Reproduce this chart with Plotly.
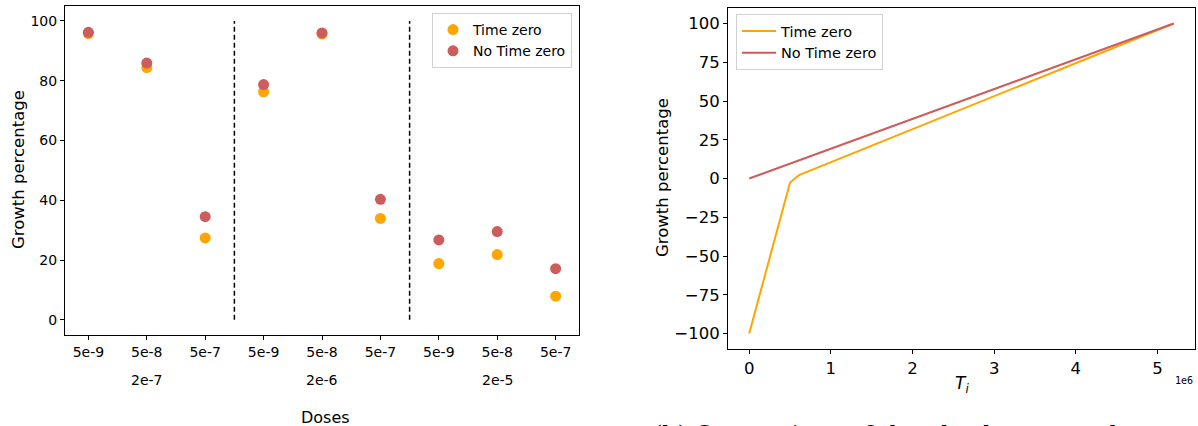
import plotly.graph_objects as go

W, H = 1198, 426

# ---------------- data ----------------
dose_ticks = ["5e-9", "5e-8", "5e-7", "5e-9", "5e-8", "5e-7", "5e-9", "5e-8", "5e-7"]
group_labels = ["2e-7", "2e-6", "2e-5"]
group_centers = [1, 4, 7]
separators = [2.5, 5.5]

time_zero = [95.8, 84.4, 27.4, 76.3, 95.6, 33.9, 18.8, 21.8, 7.9]
no_time_zero = [96.2, 85.9, 34.5, 78.7, 96.0, 40.3, 26.7, 29.5, 17.1]

ti_no_tz = [0, 5.2e6]
growth_no_tz = [0, 100]
ti_tz = [0, 0.5e6, 0.61e6, 5.2e6]
growth_tz = [-100, -2.6, 2.2, 100]

ORANGE = "#FFA500"
RED = "#CD5C5C"
FONT = "DejaVu Sans"

def px_x(p):
    return p / W

def px_y(p):
    return (H - p) / H

fig = go.Figure()

x_pos = list(range(len(dose_ticks)))

# separators
for s in separators:
    fig.add_trace(go.Scatter(x=[s, s], y=[0, 100], mode="lines",
                             line=dict(color="black", width=1.5, dash="5px,3px"),
                             showlegend=False, hoverinfo="skip", xaxis="x", yaxis="y"))

fig.add_trace(go.Scatter(x=x_pos, y=time_zero, mode="markers", name="Time zero",
                         marker=dict(color=ORANGE, size=11), xaxis="x", yaxis="y", legend="legend"))
fig.add_trace(go.Scatter(x=x_pos, y=no_time_zero, mode="markers", name="No Time zero",
                         marker=dict(color=RED, size=11), xaxis="x", yaxis="y", legend="legend"))

fig.add_trace(go.Scatter(x=ti_tz, y=growth_tz, mode="lines", name="Time zero",
                         line=dict(color=ORANGE, width=2), xaxis="x2", yaxis="y2", legend="legend2"))
fig.add_trace(go.Scatter(x=ti_no_tz, y=growth_no_tz, mode="lines", name="No Time zero",
                         line=dict(color=RED, width=2), xaxis="x2", yaxis="y2", legend="legend2"))

axis_common = dict(showline=True, linecolor="black", linewidth=1, mirror=True,
                   ticks="outside", ticklen=4, tickcolor="black", showgrid=False,
                   zeroline=False)

fig.update_layout(
    width=W, height=H,
    margin=dict(l=0, r=0, t=0, b=0),
    paper_bgcolor="white", plot_bgcolor="white",
    font=dict(family=FONT, color="black"),
    xaxis=dict(domain=[px_x(65), px_x(579)], range=[-0.4, 8.4],
               tickvals=x_pos, ticktext=dose_ticks,
               tickfont=dict(size=14), anchor="y", **axis_common),
    yaxis=dict(domain=[px_y(335), px_y(6)], range=[-5.1, 105],
               tickvals=[0, 20, 40, 60, 80, 100],
               tickfont=dict(size=14), anchor="x", **axis_common),
    xaxis2=dict(domain=[px_x(728), px_x(1195)], range=[-0.26e6, 5.46e6],
                tickvals=[0, 1e6, 2e6, 3e6, 4e6, 5e6],
                ticktext=["0", "1", "2", "3", "4", "5"],
                tickfont=dict(size=16.5), anchor="y2", **axis_common),
    yaxis2=dict(domain=[px_y(349), px_y(8)], range=[-110, 110],
                tickvals=[-100, -75, -50, -25, 0, 25, 50, 75, 100],
                tickfont=dict(size=16.5), anchor="x2", **axis_common),
    legend=dict(x=px_x(572), xanchor="right", y=px_y(13), yanchor="top",
                bgcolor="rgba(255,255,255,0.8)", bordercolor="#d0d0d0", borderwidth=1,
                font=dict(size=14, family=FONT), tracegroupgap=0, itemwidth=30),
    legend2=dict(x=px_x(736), xanchor="left", y=px_y(14), yanchor="top",
                 bgcolor="rgba(255,255,255,0.8)", bordercolor="#d0d0d0", borderwidth=1,
                 font=dict(size=14.5, family=FONT), tracegroupgap=0, itemwidth=34),
)

ann = []
for lab, c in zip(group_labels, group_centers):
    ann.append(dict(x=c, xref="x", y=px_y(380), yref="paper", text=lab, showarrow=False,
                    font=dict(size=14, family=FONT), xanchor="center", yanchor="middle"))
ann.append(dict(x=px_x(325), xref="paper", y=px_y(417), yref="paper", text="Doses",
                showarrow=False, font=dict(size=16, family=FONT), xanchor="center", yanchor="middle"))
ann.append(dict(x=px_x(18), xref="paper", y=px_y(170), yref="paper", text="Growth percentage",
                textangle=-90, showarrow=False, font=dict(size=16.5, family=FONT),
                xanchor="center", yanchor="middle"))
ann.append(dict(x=px_x(662), xref="paper", y=px_y(178), yref="paper", text="Growth percentage",
                textangle=-90, showarrow=False, font=dict(size=16.5, family=FONT),
                xanchor="center", yanchor="middle"))
ann.append(dict(x=px_x(962), xref="paper", y=px_y(384), yref="paper",
                text="<i>T</i><sub><i>i</i></sub>", showarrow=False,
                font=dict(size=17, family="DejaVu Sans"), xanchor="center", yanchor="middle"))
ann.append(dict(x=px_x(1195), xref="paper", y=px_y(380), yref="paper", text="1e6",
                showarrow=False, font=dict(size=10, family="DejaVu Sans Mono"),
                xanchor="right", yanchor="middle"))
ann.append(dict(x=px_x(652), xref="paper", y=px_y(419.5), yref="paper",
                text="(b) Comparison of the absolute growth curves for",
                showarrow=False, font=dict(size=24, family="DejaVu Serif"),
                xanchor="left", yanchor="top", borderpad=0))
fig.update_layout(annotations=ann)

fig.write_html("out.html")
